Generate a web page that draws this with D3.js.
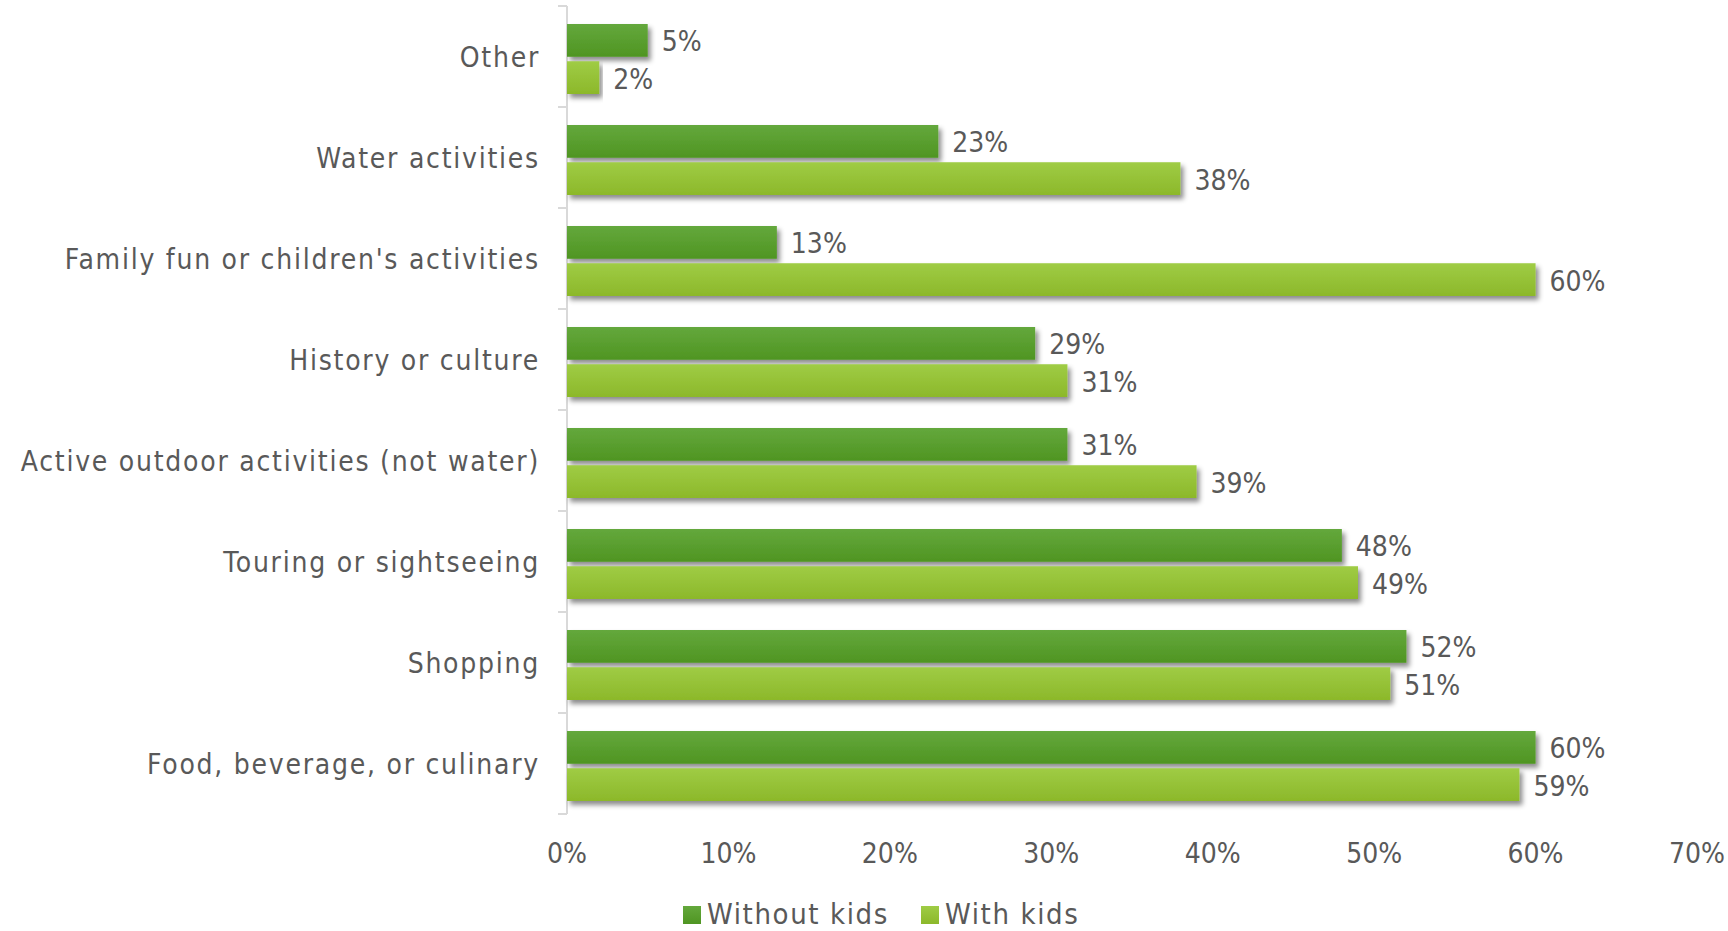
<!DOCTYPE html>
<html>
<head>
<meta charset="utf-8">
<script src="https://cdn.jsdelivr.net/npm/d3@7"></script>
<style>
  html, body { margin: 0; padding: 0; background: #ffffff; }
  svg { display: block; }
  text { font-family: "DejaVu Sans Condensed", "DejaVu Sans", sans-serif; fill: #595959; }
</style>
</head>
<body>
<svg id="chart" width="1728" height="931"></svg>
<script>
// Activity categories, top to bottom
const categories = [
  "Other",
  "Water activities",
  "Family fun or children's activities",
  "History or culture",
  "Active outdoor activities (not water)",
  "Touring or sightseeing",
  "Shopping",
  "Food, beverage, or culinary"
];
const seriesNames = ["Without kids", "With kids"];
// Percent of travellers, by category
const withoutKids = [5, 23, 13, 29, 31, 48, 52, 60];
const withKids    = [2, 38, 60, 31, 39, 49, 51, 59];
const tickValues  = [0, 10, 20, 30, 40, 50, 60, 70];

const svg = d3.select("#chart");
const defs = svg.append("defs");

const palette = {
  "Without kids": ["#64a83c", "#4f9522"],
  "With kids":    ["#9fcc45", "#8cb82a"]
};
const gradId = {};
seriesNames.forEach((s, i) => {
  const id = "grad" + i;
  gradId[s] = id;
  const g = defs.append("linearGradient").attr("id", id)
    .attr("x1", 0).attr("y1", 0).attr("x2", 0).attr("y2", 1);
  g.append("stop").attr("offset", "0%").attr("stop-color", palette[s][0]);
  g.append("stop").attr("offset", "100%").attr("stop-color", palette[s][1]);
});
const shadow = defs.append("filter").attr("id", "shadow")
  .attr("x", "-5%").attr("y", "-30%").attr("width", "115%").attr("height", "170%");
shadow.append("feDropShadow")
  .attr("dx", 3).attr("dy", 4).attr("stdDeviation", 2.5)
  .attr("flood-color", "#000").attr("flood-opacity", 0.45);

const x = d3.scaleLinear().domain([0, 70]).range([567, 1697]);
const y = d3.scaleBand().domain(categories).range([6, 814]).padding(0);
const yInner = d3.scaleBand().domain(seriesNames)
  .range([18, y.bandwidth() - 13]).paddingInner(0.12);

const rows = categories.map((c, i) => ({
  category: c,
  values: [
    { series: "Without kids", value: withoutKids[i] },
    { series: "With kids", value: withKids[i] }
  ]
}));

// Vertical axis line with ticks on category boundaries
const axisG = svg.append("g").attr("class", "y-axis");
axisG.append("line")
  .attr("x1", x(0)).attr("x2", x(0))
  .attr("y1", y.range()[0]).attr("y2", y.range()[1])
  .attr("stroke", "#d9d9d9").attr("stroke-width", 2);
const boundaries = categories.map(c => y(c)).concat([y.range()[1]]);
axisG.selectAll("line.tick").data(boundaries).join("line")
  .attr("class", "tick")
  .attr("x1", x(0) - 9).attr("x2", x(0))
  .attr("y1", d => d).attr("y2", d => d)
  .attr("stroke", "#d9d9d9").attr("stroke-width", 2);

// Category labels
svg.append("g").selectAll("text").data(categories).join("text")
  .attr("x", x(0) - 27)
  .attr("y", d => y(d) + y.bandwidth() / 2 + 2)
  .attr("text-anchor", "end")
  .attr("dominant-baseline", "middle")
  .style("font-size", "28px")
  .style("letter-spacing", "1.75px")
  .text(d => d);

// Bars
const groups = svg.append("g").selectAll("g").data(rows).join("g")
  .attr("transform", d => `translate(0,${y(d.category)})`);

groups.selectAll("rect").data(d => d.values).join("rect")
  .attr("x", x(0))
  .attr("y", d => yInner(d.series))
  .attr("width", d => x(d.value) - x(0))
  .attr("height", yInner.bandwidth())
  .attr("fill", d => `url(#${gradId[d.series]})`)
  .attr("filter", "url(#shadow)");

groups.selectAll("text").data(d => d.values).join("text")
  .attr("x", d => x(d.value) + 14)
  .attr("y", d => yInner(d.series) + yInner.bandwidth() / 2 + 3)
  .attr("dominant-baseline", "middle")
  .style("font-size", "28px")
  .text(d => d.value + "%");

// Horizontal tick labels
svg.append("g").selectAll("text").data(tickValues).join("text")
  .attr("x", d => x(d))
  .attr("y", 855)
  .attr("text-anchor", "middle")
  .attr("dominant-baseline", "middle")
  .style("font-size", "28px")
  .text(d => d + "%");

// Legend
const legend = svg.append("g").attr("transform", "translate(683,915)");
const legendOffsets = [0, 238];
seriesNames.forEach((s, i) => {
  const g = legend.append("g").attr("transform", `translate(${legendOffsets[i]},0)`);
  g.append("rect").attr("x", 0).attr("y", -9).attr("width", 18).attr("height", 18)
    .attr("fill", `url(#${gradId[s]})`);
  g.append("text").attr("x", 24).attr("y", 1)
    .attr("dominant-baseline", "middle")
    .style("font-size", "29px")
    .style("letter-spacing", "1.6px")
    .text(s);
});
</script>
</body>
</html>
